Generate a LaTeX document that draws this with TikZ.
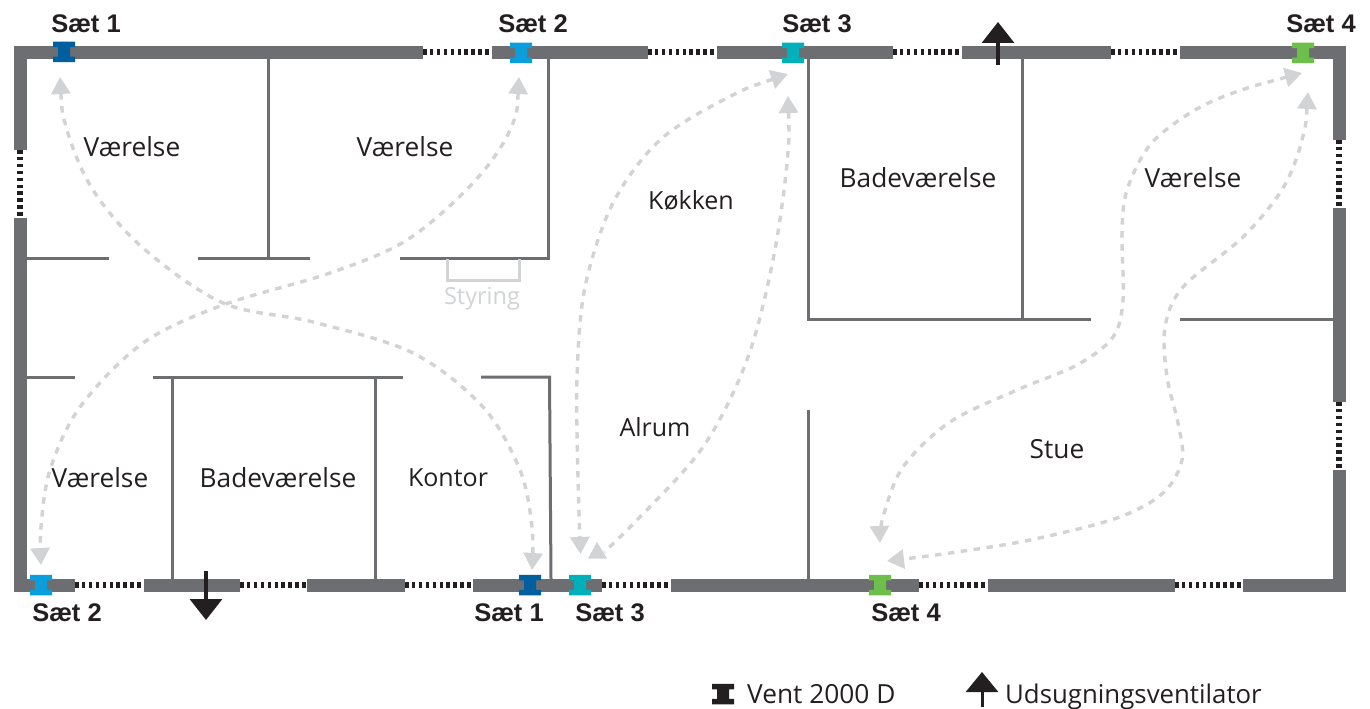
\documentclass[tikz,border=0pt]{standalone}
\usepackage{fontspec}
\setmainfont{Open Sans}
\newfontfamily\boldlabel{Liberation Sans}[BoldFont={Liberation Sans Bold}]
\usetikzlibrary{arrows.meta}
\definecolor{wallc}{HTML}{6D6E71}
\definecolor{inkc}{HTML}{231F20}
\definecolor{flowc}{HTML}{D1D3D4}
\definecolor{setone}{HTML}{005F9E}
\definecolor{settwo}{HTML}{0A9FDC}
\definecolor{setthree}{HTML}{00B1BC}
\definecolor{setfour}{HTML}{6CBF4B}
\tikzset{
  wall/.style={draw=wallc,line width=13pt},
  wallcorner/.style={wall,line join=miter},
  inner/.style={draw=wallc,line width=3pt,line join=miter},
  win/.style={draw=inkc,line width=6pt,dash pattern=on 3.5pt off 3.4pt},
  flow/.style={draw=flowc,line width=3.4pt,dash pattern=on 6.5pt off 6.5pt,
    {Triangle[length=17pt,width=19pt,fill=flowc]}-{Triangle[length=17pt,width=19pt,fill=flowc]}},
  fan/.style={draw=inkc,line width=3.4pt,-{Triangle[length=21pt,width=32pt,fill=inkc]}},
  setlabel/.style={font=\boldlabel\bfseries\fontsize{25.5}{26}\selectfont,text=inkc,inner sep=0pt},
  room/.style={font=\fontsize{26.3}{28}\selectfont,text=inkc,inner sep=0pt},
  roomsmall/.style={font=\fontsize{25}{28}\selectfont,text=inkc,inner sep=0pt},
  ctl/.style={font=\fontsize{23.5}{26}\selectfont,text=flowc,inner sep=0pt},
  ventnode/.style={minimum width=22pt,minimum height=20.5pt,inner sep=0pt,outer sep=0pt,
    path picture={\fill[#1] (path picture bounding box.north west) -- (path picture bounding box.north east)
      -- ++(0,-5.5pt) -- ++(-5pt,0) -- ++(0,-9.5pt) -- ++(5pt,0)
      -- (path picture bounding box.south east) -- (path picture bounding box.south west)
      -- ++(0,5.5pt) -- ++(5pt,0) -- ++(0,9.5pt) -- ++(-5pt,0) -- cycle;}},
}
\begin{document}
\begin{tikzpicture}[x=1pt,y=-1pt]
\useasboundingbox (0,0) rectangle (1370,709);
% windows
\draw[win] (423,52) -- (492,52);
\draw[win] (648,52) -- (717,52);
\draw[win] (893,52) -- (962,52);
\draw[win] (1111,52) -- (1180,52);
\draw[win] (75,585) -- (144,585);
\draw[win] (240,585) -- (307,585);
\draw[win] (405,585) -- (473,585);
\draw[win] (602,585) -- (671,585);
\draw[win] (919,585) -- (988,585);
\draw[win] (1175,585) -- (1243,585);
\draw[win] (20,150) -- (20,218);
\draw[win] (1339,140) -- (1339,208);
\draw[win] (1339,402) -- (1339,470);
% inner walls
\draw[inner] (268,59) -- (268,258);
\draw[inner] (26,258) -- (109,258);
\draw[inner] (198,258) -- (310,258);
\draw[inner] (400,258) -- (548.5,258) -- (548.5,59);
\draw[draw=flowc,line width=3pt] (447,259) -- (447,280.5) -- (519,280.5) -- (519,259);
\draw[inner] (26,377) -- (75,377);
\draw[inner] (153,377) -- (403,377);
\draw[inner] (481,377) -- (549.5,377) -- (551,579);
\draw[inner] (172,377) -- (172,579);
\draw[inner] (375,377) -- (375,579);
\draw[inner] (808,59) -- (808,319.5) -- (1091,319.5);
\draw[inner] (1022,59) -- (1022,319.5);
\draw[inner] (1180,319.5) -- (1333,319.5);
\draw[inner] (808,410) -- (808,579);
% outer walls
\draw[wallcorner] (20,150) -- (20,52.5) -- (423,52.5);
\draw[wall] (492,52.5) -- (648,52.5);
\draw[wall] (717,52.5) -- (893,52.5);
\draw[wall] (962,52.5) -- (1111,52.5);
\draw[wallcorner] (1180,52.5) -- (1339,52.5) -- (1339,140);
\draw[wall] (1339,208) -- (1339,402);
\draw[wallcorner] (1339,470) -- (1339,585) -- (1243,585);
\draw[wall] (988,585) -- (1175,585);
\draw[wall] (671,585) -- (919,585);
\draw[wall] (473,585) -- (602,585);
\draw[wall] (307,585) -- (405,585);
\draw[wall] (144,585) -- (240,585);
\draw[wallcorner] (75,585) -- (20,585) -- (20,218);
% vents
\node[ventnode=setone] (v1t) at (64,52) {};
\node[ventnode=settwo] (v2t) at (521,53) {};
\node[ventnode=setthree] (v3t) at (793,53) {};
\node[ventnode=setfour] (v4t) at (1303,53) {};
\node[ventnode=settwo] (v2b) at (41,585) {};
\node[ventnode=setone] (v1b) at (530,585) {};
\node[ventnode=setthree] (v3b) at (580,585) {};
\node[ventnode=setfour] (v4b) at (880,585) {};
\node[ventnode=inkc] (vleg) at (723,694) {};
% exhaust fans
\coordinate (fa0) at (998,65); \coordinate (fa1) at (998,22);
\coordinate (fb0) at (206,571); \coordinate (fb1) at (206,620);
\coordinate (fc0) at (982,707); \coordinate (fc1) at (982,672);
\draw[fan] (fa0) -- (fa1);
\draw[fan] (fb0) -- (fb1);
\draw[fan,line width=3pt,-{Triangle[length=20pt,width=32pt,fill=inkc]}] (fc0) -- (fc1);
% air flow
\coordinate (a1) at (60,77); \coordinate (a2) at (532,570);
\draw[flow] plot[smooth,tension=0.55] coordinates {(a1) (67,130) (93,190) (143,248) (223,303) (313,322) (413,353) (483,407) (520,470) (532,527) (a2)};
\coordinate (b1) at (519,77); \coordinate (b2) at (41,565);
\draw[flow] plot[smooth,tension=0.55] coordinates {(b1) (510,130) (473,183) (407,240) (330,273) (223,305) (143,343) (80,407) (50,470) (41,527) (b2)};
\coordinate (c1) at (788,74); \coordinate (c2) at (580.5,554);
\draw[flow] plot[smooth,tension=0.55] coordinates {(c1) (727,98) (660,140) (613,203) (585,287) (577,377) (578,477) (c2)};
\coordinate (d1) at (788,96); \coordinate (d2) at (604,552);
\draw[flow,{Triangle[length=17pt,width=19pt,fill=flowc]}-] plot[smooth,tension=0.55] coordinates {(d1) (787,163) (773,260) (747,360) (703,447) (637,520) (d2)};
\fill[flowc] (597,542) -- (588,558.5) -- (607,558.5) -- cycle;
\coordinate (e1) at (1302,73); \coordinate (e2) at (880,543);
\draw[flow] plot[smooth,tension=0.55] coordinates {(e1) (1233,93) (1190,113) (1150,145) (1127,190) (1122,233) (1123,300) (1113,337) (1077,365) (1017,390) (950,422) (903,467) (883,517) (e2)};
\coordinate (f1) at (1308,92); \coordinate (f2) at (887,561);
\draw[flow] plot[smooth,tension=0.55] coordinates {(f1) (1302,140) (1283,188) (1243,237) (1183,287) (1165,327) (1167,377) (1178,423) (1182,460) (1163,493) (1117,518) (1030,540) (950,553) (f2)};
% labels
\node[setlabel] (l1) at (86,24) {Sæt 1};
\node[setlabel] (l2) at (533,24) {Sæt 2};
\node[setlabel] (l3) at (817,24) {Sæt 3};
\node[setlabel] (l4) at (1321,24) {Sæt 4};
\node[setlabel] (l5) at (67,613) {Sæt 2};
\node[setlabel] (l6) at (509,613) {Sæt 1};
\node[setlabel] (l7) at (610,613) {Sæt 3};
\node[setlabel] (l8) at (906,613) {Sæt 4};
\node[room] (r1) at (132,147) {Værelse};
\node[room] (r2) at (405,147) {Værelse};
\node[roomsmall] (r3) at (691,200) {Køkken};
\node[room] (r4) at (918,178) {Badeværelse};
\node[room] (r5) at (1193,178) {Værelse};
\node[roomsmall] (r6) at (655,427) {Alrum};
\node[room] (r7) at (1057,449) {Stue};
\node[room] (r8) at (100,478) {Værelse};
\node[room] (r9) at (278,478) {Badeværelse};
\node[roomsmall] (r10) at (448,478) {Kontor};
\node[ctl] (r11) at (482,299) {Styring};
\node[room,anchor=base west] (t1) at (747,703) {Vent 2000 D};
\node[room,anchor=base west,font=\fontsize{25.8}{28}\selectfont] (t2) at (1005,703) {Udsugningsventilator};
\end{tikzpicture}
\end{document}
